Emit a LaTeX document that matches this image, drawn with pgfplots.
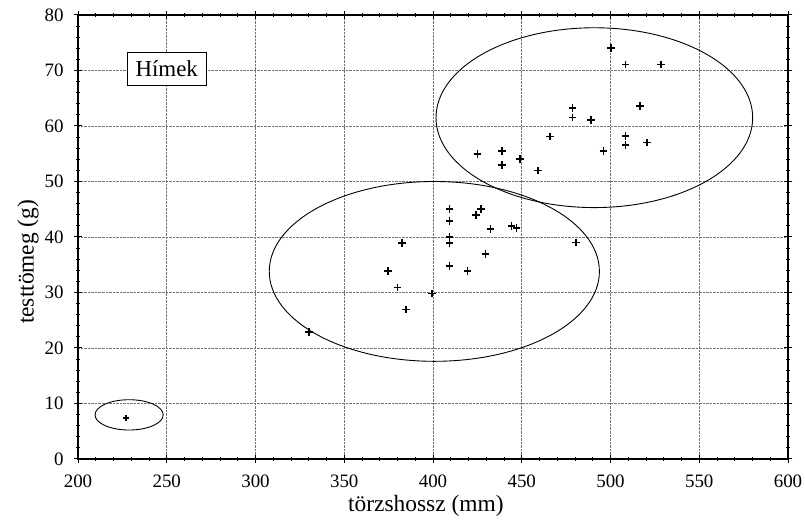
\documentclass[border=0pt]{standalone}
\usepackage{fontspec}
\setmainfont{Liberation Serif}
\usepackage{pgfplots}
\pgfplotsset{compat=1.18}

\begin{document}
\begin{tikzpicture}
  \begin{axis}[
      scale only axis, width=710bp, height=444bp,
      xmin=200, xmax=600, ymin=0, ymax=80,
      xtick={200,250,...,600}, ytick={0,10,...,80},
      minor x tick num=4, minor y tick num=4,
      grid=major, grid style={densely dotted, black!55, line width=0.7pt},
      axis line style={line width=1.3pt},
      tick style={black, line width=1pt},
      tick align=center, major tick length=8bp, minor tick length=4bp,
      /pgf/number format/assume math mode=true,
      tick label style={font=\fontsize{19}{22}\selectfont},
      xticklabel style={yshift=-8bp},
      yticklabel style={xshift=-7bp},
      label style={font=\fontsize{23.5}{27}\selectfont},
      xlabel={törzshossz (mm)}, ylabel={testtömeg (g)},
      xlabel style={at={(axis description cs:0.49,0)}, anchor=center, yshift=-47bp},
      ylabel style={at={(axis description cs:0,0.444)}, anchor=center, yshift=50bp},
      clip=false,
    ]
    % upper group
    \addplot[only marks, mark=+, mark size=3.8bp, line width=1.6pt]
      coordinates {(425,55) (439,55.5) (439,53) (449,54) (459,52)
        (466,58.1) (478.5,63.2) (478.5,61.5) (489,61.1) (496,55.5)
        (500.3,74.1) (508.5,71.1) (528.5,71.1) (516.6,63.6)
        (508.5,58.2) (508.5,56.6) (520.7,57)};
    % middle group
    \addplot[only marks, mark=+, mark size=3.8bp, line width=1.6pt]
      coordinates {(409.4,45) (409.4,42.9) (427,45) (424.2,44)
        (432.5,41.4) (444.3,42) (447.1,41.6) (409.4,40) (409.4,38.9)
        (480.7,39) (382.7,38.9) (429.5,36.9) (409.4,34.8) (419.5,33.9)
        (374.8,33.9) (379.9,30.9) (399.4,29.8) (384.9,26.9) (330.3,22.9)};
    % single small animal
    \addplot[only marks, mark=+, mark size=2.8bp, line width=1.2pt]
      coordinates {(227,7.4)};

    \draw[line width=0.9pt] (axis cs:490.9,61.5) ellipse [x radius=89.2, y radius=16.2];
    \draw[line width=0.9pt] (axis cs:400.75,33.8) ellipse [x radius=93, y radius=16.2];
    \draw[line width=0.9pt] (axis cs:228.8,7.95) ellipse [x radius=19.2, y radius=2.73];

    \node[draw, line width=0.9pt, fill=white, inner sep=0pt,
          minimum width=79bp, minimum height=33bp,
          font=\fontsize{23}{26}\selectfont]
      at (axis cs:250,70.3) {Hímek};
  \end{axis}
  \pgfresetboundingbox
  \useasboundingbox ([shift={(-78bp,-73bp)}]current axis.south west)
    rectangle ([shift={(17bp,15bp)}]current axis.north east);
\end{tikzpicture}
\end{document}
